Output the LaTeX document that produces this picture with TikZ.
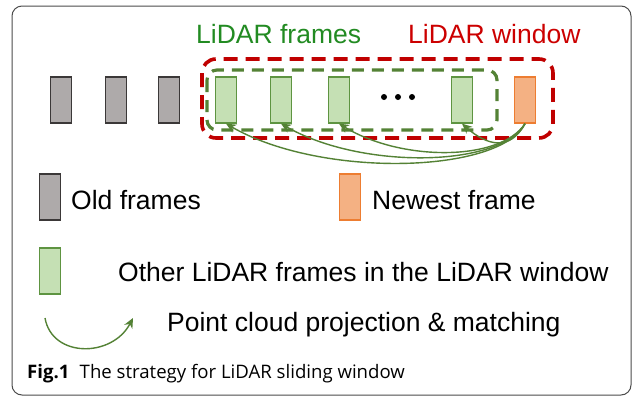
\documentclass[tikz,border=0pt]{standalone}
\usepackage{fontspec}
\setmainfont{Liberation Sans}
\newfontfamily\capfont{Open Sans}
\usetikzlibrary{arrows.meta}
\definecolor{grayfill}{HTML}{AEAAAA}
\definecolor{graydraw}{HTML}{3B3838}
\definecolor{greenfill}{HTML}{C5E0B4}
\definecolor{greendraw}{HTML}{5E9441}
\definecolor{orangefill}{HTML}{F4B183}
\definecolor{orangedraw}{HTML}{ED7D31}
\definecolor{reddash}{HTML}{C00000}
\definecolor{greendash}{HTML}{548235}
\definecolor{arrowgreen}{HTML}{548235}
\definecolor{labgreen}{RGB}{34,139,34}
\definecolor{labred}{RGB}{204,0,0}
\tikzset{
  framebox/.style={rectangle, minimum width=21pt, minimum height=46pt, inner sep=0pt, line width=1.3pt},
  oldframe/.style={framebox, fill=grayfill, draw=graydraw, line width=1.6pt},
  litframe/.style={framebox, fill=greenfill, draw=greendraw},
  newframe/.style={framebox, fill=orangefill, draw=orangedraw},
  bigtext/.style={anchor=base west, inner sep=0pt, font=\fontsize{26.5}{30}\selectfont},
  proj/.style={draw=arrowgreen, line width=1.4pt, -{Stealth[length=10pt,width=9pt]}},
}
\begin{document}
\begin{tikzpicture}[x=1pt, y=-1pt]
\useasboundingbox (0,0) rectangle (637,397);
\fill[white] (0,0) rectangle (637,397);
% outer frame
\draw[draw=black!70, line width=1pt, rounded corners=10pt] (12,6) rectangle (631,395);
% dashed windows
\draw[reddash, line width=3.6pt, dash pattern=on 14pt off 8pt, rounded corners=14pt] (202,59) rectangle (553,138);
\draw[greendash, line width=3.2pt, dash pattern=on 12pt off 8pt, rounded corners=10pt] (207,70) rectangle (497,130);
% labels
\node[bigtext, text=labgreen] (lfr) at (196,43) {LiDAR frames};
\node[bigtext, text=labred] (lwin) at (408,43) {LiDAR window};
% frames
\node[oldframe] (o1) at (61,100) {};
\node[oldframe] (o2) at (116,100) {};
\node[oldframe] (o3) at (169,100) {};
\node[litframe] (g1) at (226,100) {};
\node[litframe] (g2) at (281,100) {};
\node[litframe] (g3) at (339,100) {};
\node[litframe] (g4) at (462,100) {};
\node[newframe] (nw) at (525,100) {};
% dots
\fill (384,97) circle (3pt) (398,97) circle (3pt) (412,97) circle (3pt);
% projections
\draw[proj] (nw.south) .. controls +(-25,50) and +(95,55) .. (g1.south);
\draw[proj] (nw.south) .. controls +(-25,44) and +(80,46) .. (g2.south);
\draw[proj] (nw.south) .. controls +(-25,38) and +(62,38) .. (g3.south);
\draw[proj] (nw.south) .. controls +(-15,28) and +(25,22) .. (g4.south);
% legend
\node[oldframe] (lo) at (50,197) {};
\node[bigtext] (lot) at (71,209) {Old frames};
\node[newframe] (ln) at (350,197) {};
\node[bigtext] (lnt) at (372,209) {Newest frame};
\node[litframe] (lg) at (50,271) {};
\node[bigtext] (lgt) at (118,281) {Other LiDAR frames in the LiDAR window};
\coordinate (arcs) at (45,318);
\coordinate (arce) at (133,318);
\draw[proj] (arcs) .. controls (52,358) and (112,358) .. (arce);
\node[bigtext] (lpt) at (167,331) {Point cloud projection \& matching};
% caption
\node[anchor=base west, inner sep=0pt, font=\capfont\fontsize{18.6}{22}\selectfont] (cap) at (27,378) {\textbf{Fig.1}\hspace{0.55em}The strategy for LiDAR sliding window};
\end{tikzpicture}
\end{document}
